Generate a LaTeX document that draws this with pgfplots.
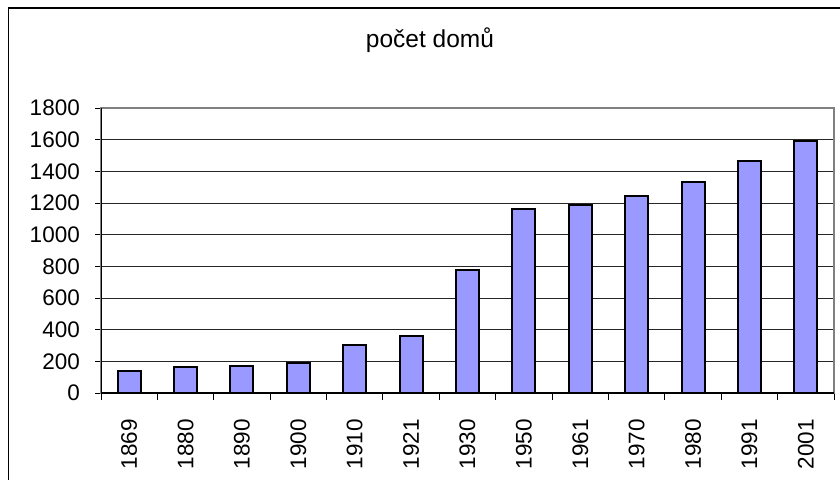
\documentclass[border=0pt]{standalone}
\usepackage{pgfplots}
\pgfplotsset{compat=1.18}
\usepackage{fontspec}
\setmainfont{Liberation Sans}
\definecolor{barblue}{HTML}{9999FF}
\begin{document}
\begin{tikzpicture}
\useasboundingbox (0,0) rectangle (840bp,-480bp);
\fill[white] (0,0) rectangle (840bp,-480bp);
\draw[black, line width=1.2bp] (8.7bp,-480bp) -- (8.7bp,-8bp) -- (840bp,-8bp);
\node[anchor=base, font=\fontsize{24.5bp}{29bp}\selectfont] at (430bp,-47bp) {počet domů};
\begin{axis}[
  at={(101bp,-393bp)}, anchor=south west,
  scale only axis, width=733bp, height=285bp,
  ymin=0, ymax=1800, ytick={0,200,...,1800},
  xmin=-0.5, xmax=12.5,
  xtick={0,...,12},
  xticklabels={1869,1880,1890,1900,1910,1921,1930,1950,1961,1970,1980,1991,2001},
  minor xtick={-0.5,0.5,...,12.5},
  xtick pos=bottom, ytick pos=left,
  tick align=outside,
  major tick length=6bp, minor tick length=7bp,
  major x tick style={draw=none},
  minor x tick style={black, line width=1bp},
  ytick style={black, line width=1bp},
  ymajorgrids,
  grid style={black!85, line width=0.9bp},
  axis line style={draw=gray, line width=1.2bp},
  /pgf/number format/assume math mode=true,
  /pgf/number format/1000 sep={},
  ticklabel style={font=\fontsize{22.5bp}{27bp}\selectfont},
  yticklabel style={anchor=east, inner sep=0pt, xshift=-15bp},
  xticklabel style={yshift=-20bp, rotate=90, anchor=east, inner sep=0pt},
  ybar, bar width=23bp,
]
\addplot[fill=barblue, draw=black, line width=2bp] coordinates {
(0,139) (1,162) (2,168) (3,187) (4,303) (5,358) (6,779)
(7,1162) (8,1188) (9,1245) (10,1333) (11,1465) (12,1592)};
\draw[black, line width=1.2bp] (rel axis cs:0,1) -- (rel axis cs:0,0) -- (rel axis cs:1,0);
\end{axis}
\end{tikzpicture}
\end{document}
